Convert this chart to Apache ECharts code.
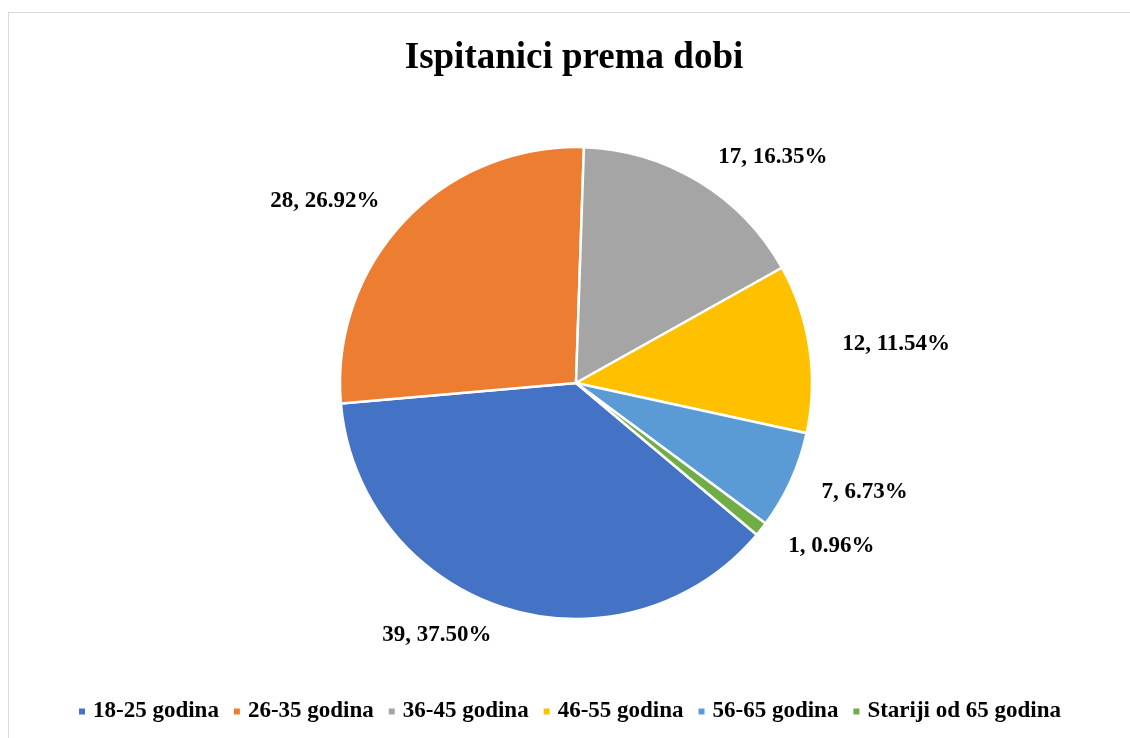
<!DOCTYPE html>
<html><head><meta charset="utf-8">
<script src="https://cdn.jsdelivr.net/npm/echarts@6/dist/echarts.min.js"></script>
<style>
html,body{margin:0;padding:0;background:#fff;}
#wrap{position:relative;width:1130px;height:738px;overflow:hidden;}
#frame{position:absolute;left:8px;top:12px;width:1200px;height:800px;border:1.5px solid #d9d9d9;box-sizing:border-box;}
#chart{position:absolute;left:0;top:0;width:1130px;height:738px;}
</style></head>
<body><div id="wrap"><div id="frame"></div><div id="chart"></div></div>
<script>
const title = 'Ispitanici prema dobi';
const categories = ['18-25 godina','26-35 godina','36-45 godina','46-55 godina','56-65 godina','Stariji od 65 godina'];
const values = [39, 28, 17, 12, 7, 1];
const colors = ['#4472C4','#ED7D31','#A5A5A5','#FFC000','#5B9BD5','#70AD47'];

const total = values.reduce((a,b)=>a+b,0);
const chart = echarts.init(document.getElementById('chart'), null, {renderer:'canvas'});
const font = '"Liberation Serif","Times New Roman",serif';
chart.setOption({
  animation:false,
  color: colors,
  title:{text:title,left:569,textAlign:'center',top:35,textStyle:{fontFamily:font,fontWeight:'bold',fontSize:37,color:'#000'}},
  legend:{bottom:10,left:72,itemWidth:8,itemHeight:8,itemGap:13,icon:'rect',
    textStyle:{fontFamily:font,fontWeight:'bold',fontSize:23,color:'#000',padding:[0,0,0,2]},data:categories},
  series:[{
    type:'pie',
    center:[576,383],
    radius:236,
    startAngle:-40,
    clockwise:true,
    avoidLabelOverlap:false,
    itemStyle:{borderColor:'#fff',borderWidth:2.5},
    label:{show:true,position:'outside',fontFamily:font,fontWeight:'bold',fontSize:23,color:'#000',
      formatter:p=>p.value+', '+(p.value/total*100).toFixed(2)+'%'},
    labelLine:{show:false,length:28,length2:0},
    data:categories.map((c,i)=>({name:c,value:values[i]}))
  }]
});
</script></body></html>
